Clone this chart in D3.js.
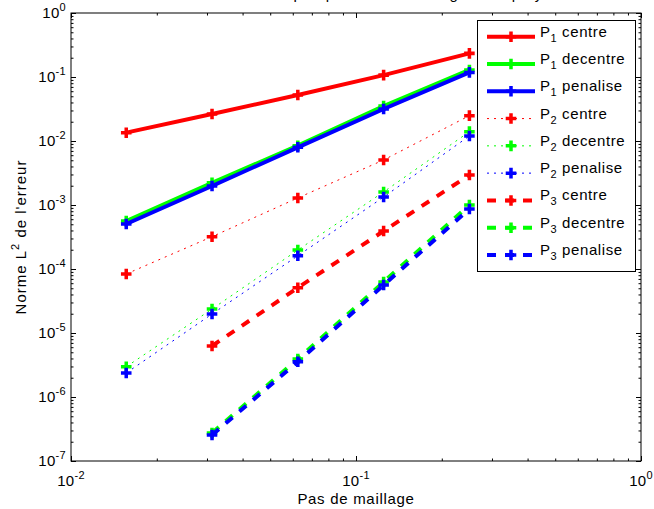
<!DOCTYPE html>
<html>
<head>
<meta charset="utf-8">
<script src="https://cdn.jsdelivr.net/npm/d3@7"></script>
<style>
  body { margin: 0; background: #fff; }
  svg text { font-family: "Liberation Sans", Arial, Helvetica, sans-serif; fill: #000; }
</style>
</head>
<body>
<div id="chart"></div>
<script>
// mesh steps (x axis)
var steps = [1/64, 1/32, 1/16, 1/8, 1/4]

// L2 error per method (null = no value at that step)
var p1Centre   = [0.0135, 0.0264, 0.0523, 0.107, 0.234]
var p1Decentre = [5.6e-4, 2.23e-3, 8.45e-3, 0.0352, 0.129]
var p1Penalise = [5.05e-4, 1.98e-3, 7.97e-3, 0.0316, 0.118]
var p2Centre   = [8.36e-5, 3.2e-4, 1.29e-3, 5.05e-3, 0.0249]
var p2Decentre = [2.97e-6, 2.37e-5, 1.98e-4, 1.6e-3, 0.014]
var p2Penalise = [2.37e-6, 1.98e-5, 1.61e-4, 1.33e-3, 0.012]
var p3Centre   = [null, 6.26e-6, 5.1e-5, 3.92e-4, 2.94e-3]
var p3Decentre = [null, 2.74e-7, 3.93e-6, 6.27e-5, 1.0e-3]
var p3Penalise = [null, 2.55e-7, 3.56e-6, 5.62e-5, 8.66e-4]

var degrees = ["1", "1", "1", "2", "2", "2", "3", "3", "3"]
var methods = ["centre", "decentre", "penalise", "centre", "decentre", "penalise", "centre", "decentre", "penalise"]

var xExps = [-2, -1, 0]
var yExps = [-7, -6, -5, -4, -3, -2, -1, 0]

var titleText = "Erreur en fonction du pas pour les trois degres de polynome"

var width = 654, height = 509
var margin = {top: 13, right: 13, bottom: 48, left: 71}

var svg = d3.select("#chart")
    .append("svg")
    .attr("width", width)
    .attr("height", height)

var x = d3.scaleLog().domain([1e-2, 1]).range([margin.left, width - margin.right])
var y = d3.scaleLog().domain([1e-7, 1]).range([height - margin.bottom, margin.top])

var colors = ["#ff0000", "#00ff00", "#0000ff"]
var styles = {
    "1": {w: 4, dash: null},
    "2": {w: 1, dash: "2,5"},
    "3": {w: 4, dash: "9,9"}
}

var allSeries = [p1Centre, p1Decentre, p1Penalise, p2Centre, p2Decentre, p2Penalise, p3Centre, p3Decentre, p3Penalise]

// ticks
var major = xExps.map(e => Math.pow(10, e))
var majorY = yExps.map(e => Math.pow(10, e))
var minorX = [], minorY = []
for (var e = -2; e < 0; e++) for (var k = 2; k < 10; k++) minorX.push(k * Math.pow(10, e))
for (var e = -7; e < 0; e++) for (var k = 2; k < 10; k++) minorY.push(k * Math.pow(10, e))

var x0 = x.range()[0], x1 = x.range()[1], y0 = y.range()[0], y1 = y.range()[1]

function drawAxis(axis, tx, ty) {
    var g = svg.append("g").attr("transform", "translate(" + tx + "," + ty + ")").call(axis)
    g.select(".domain").remove()
    g.selectAll("line").attr("stroke", "#000").attr("stroke-width", 1)
}

drawAxis(d3.axisBottom(x).tickValues(major).tickSize(-5).tickFormat(""), 0, y0)
drawAxis(d3.axisBottom(x).tickValues(minorX).tickSize(-2.5).tickFormat(""), 0, y0)
drawAxis(d3.axisTop(x).tickValues(major).tickSize(-5).tickFormat(""), 0, y1)
drawAxis(d3.axisTop(x).tickValues(minorX).tickSize(-2.5).tickFormat(""), 0, y1)
drawAxis(d3.axisLeft(y).tickValues(majorY).tickSize(-5).tickFormat(""), x0, 0)
drawAxis(d3.axisLeft(y).tickValues(minorY).tickSize(-2.5).tickFormat(""), x0, 0)
drawAxis(d3.axisRight(y).tickValues(majorY).tickSize(-5).tickFormat(""), x1, 0)
drawAxis(d3.axisRight(y).tickValues(minorY).tickSize(-2.5).tickFormat(""), x1, 0)

// box
svg.append("rect")
    .attr("x", x0).attr("y", y1)
    .attr("width", x1 - x0).attr("height", y0 - y1)
    .attr("fill", "none").attr("stroke", "#000").attr("stroke-width", 1)

// tick labels
var xl = svg.append("g").selectAll("text").data(xExps).enter().append("text")
    .attr("x", d => x(Math.pow(10, d)))
    .attr("y", y0 + 25)
    .attr("text-anchor", "middle")
    .attr("font-size", "15px")
    .attr("letter-spacing", "0.3px")
xl.append("tspan").text("10")
xl.append("tspan").attr("font-size", "11px").attr("dy", -7).text(d => d)

var yl = svg.append("g").selectAll("text").data(yExps).enter().append("text")
    .attr("x", x0 - 5)
    .attr("y", d => y(Math.pow(10, d)) + 5)
    .attr("text-anchor", "end")
    .attr("font-size", "15px")
    .attr("letter-spacing", "0.3px")
yl.append("tspan").text("10")
yl.append("tspan").attr("font-size", "11px").attr("dy", -7).text(d => d)

// axis titles
svg.append("text")
    .attr("x", (x0 + x1) / 2)
    .attr("y", 504)
    .attr("text-anchor", "middle")
    .attr("font-size", "15px")
    .attr("letter-spacing", "0.7px")
    .text("Pas de maillage")

var yt = svg.append("text")
    .attr("transform", "translate(26," + ((y0 + y1) / 2) + ") rotate(-90)")
    .attr("text-anchor", "middle")
    .attr("font-size", "15px")
    .attr("letter-spacing", "1px")
yt.append("tspan").text("Norme L")
yt.append("tspan").attr("font-size", "11px").attr("dy", -7).text("2")
yt.append("tspan").attr("dy", 7).text(" de l'erreur")

// title sits mostly above the frame, only descenders show
svg.append("text")
    .attr("x", (x0 + x1) / 2)
    .attr("y", -1)
    .attr("text-anchor", "middle")
    .attr("font-size", "15px")
    .attr("letter-spacing", "1px")
    .text(titleText)

// series
var line = d3.line()
    .defined(d => d[1] != null)
    .x(d => x(d[0]))
    .y(d => y(d[1]))

var plus = d3.symbol().type(d3.symbolCross).size(62)

allSeries.forEach(function (vals, i) {
    var st = styles[degrees[i]]
    var pts = steps.map((s, j) => [s, vals[j]])
    svg.append("path")
        .datum(pts)
        .attr("d", line)
        .attr("fill", "none")
        .attr("stroke", colors[i % 3])
        .attr("stroke-width", st.w)
        .attr("stroke-dasharray", st.dash)
    svg.append("g").selectAll("path")
        .data(pts.filter(d => d[1] != null))
        .enter().append("path")
        .attr("d", plus)
        .attr("transform", d => "translate(" + x(d[0]) + "," + y(d[1]) + ")")
        .attr("fill", colors[i % 3])
})

// legend
var legend = svg.append("g")
legend.append("rect")
    .attr("x", 477.5).attr("y", 20.5)
    .attr("width", 158).attr("height", 251)
    .attr("fill", "#fff").attr("stroke", "#000").attr("stroke-width", 1)

var rowY = d3.scaleLinear().domain([0, 8]).range([36.7, 255])

allSeries.forEach(function (vals, i) {
    var st = styles[degrees[i]]
    var ry = rowY(i)
    legend.append("line")
        .attr("x1", 487).attr("x2", 535)
        .attr("y1", ry).attr("y2", ry)
        .attr("stroke", colors[i % 3])
        .attr("stroke-width", st.w)
        .attr("stroke-dasharray", st.dash)
    legend.append("path")
        .attr("d", plus)
        .attr("transform", "translate(511," + ry + ")")
        .attr("fill", colors[i % 3])
    var t = legend.append("text")
        .attr("x", 540).attr("y", ry)
        .attr("font-size", "15px")
        .attr("letter-spacing", "0.6px")
    t.append("tspan").text("P")
    t.append("tspan").attr("font-size", "11px").attr("dy", 5).text(degrees[i])
    t.append("tspan").attr("dy", -5).text(" " + methods[i])
})
</script>
</body>
</html>
